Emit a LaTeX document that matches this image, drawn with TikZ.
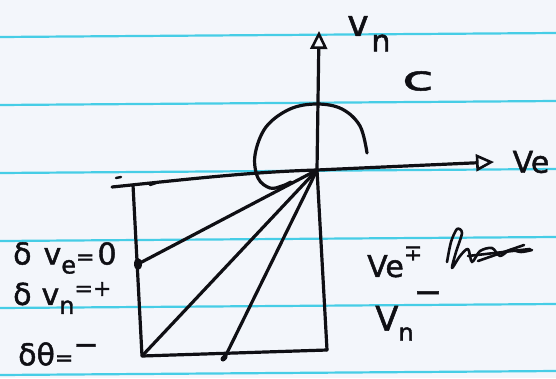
\documentclass[tikz,border=0pt]{standalone}
\usepackage{fontspec}
\setmainfont{DejaVu Sans}[FakeBold=1.5]
\usetikzlibrary{arrows.meta}
\definecolor{paper}{RGB}{243,246,251}
\definecolor{rulec}{RGB}{70,205,230}
\definecolor{ink}{RGB}{15,15,20}
\newcommand\lowr[1]{\raisebox{-0.3em}{\fontsize{24}{24}\selectfont #1}}
\newcommand\sm[1]{{\fontsize{22}{22}\selectfont #1}}
\tikzset{
  inkline/.style={draw=ink, line width=3.2pt, line cap=round, line join=round},
  ruleline/.style={draw=rulec, line width=2.2pt},
  lab/.style={inner sep=0pt, text=ink, font=\fontsize{30}{30}\selectfont},
  opentip/.style={-{Triangle[open, length=18pt, width=17pt, line width=2.6pt]}},
}
\begin{document}
\begin{tikzpicture}[x=1pt,y=-1pt]
\fill[paper] (0,0) rectangle (556,378);
\useasboundingbox (0,0) rectangle (556,378);
% ruled lines
\foreach \yy in {35,103,171,239,306,373}
  \draw[ruleline] (0,\yy+2) -- (556,\yy-2);
% key points
\coordinate (O) at (317,170);
\coordinate (N) at (319,31);
\coordinate (E) at (494,162);
\coordinate (W) at (112,187);
\coordinate (TL) at (133,185);
\coordinate (BL) at (142,356);
\coordinate (BR) at (327,350);
\coordinate (D) at (138,264);
\coordinate (M) at (225,357);
% axes
\draw[inkline, opentip] (BR) -- (O) -- (N);
\draw[inkline, opentip] (W) .. controls (190,179) and (250,172) .. (O) -- (E);
% box and fan
\draw[inkline] (TL) -- (BL) -- (BR);
\draw[inkline] (O) -- (D);
\draw[inkline] (O) -- (BL);
\draw[inkline] (O) -- (M);
\fill[ink] (D) ellipse (4 and 6);
\draw[inkline, line width=5pt] (M) -- ++(-2,2);
% small ticks
\draw[inkline, line width=2.4pt] (116,178) -- (121,177);
\draw[inkline, line width=2.4pt] (150,185) -- (156,183);
% semicircle
\draw[inkline] plot[smooth, tension=0.6] coordinates {(367,153) (360,126) (342,109) (317,104) (290,109) (266,127) (255,155) (258,178) (270,188) (282,186) (291,182)};
% labels
\node[lab, font=\fontsize{36}{36}\selectfont] (vlab) at (358,26) {v};
\node[lab, font=\fontsize{30}{30}\selectfont] (nlab) at (381,43) {n};
\node[lab, font=\fontsize{34}{34}\selectfont] (clab) at (418,81) {\scalebox{1.7}[1]{c}};
\node[lab] (velab) at (531,162) {Ve};
\node[lab, anchor=west] (l1) at (13,258) {δ\kern12pt v\lowr{e}\sm{=}\kern3pt 0};
\node[lab, anchor=west] (l2) at (13,298) {δ\kern10pt v\lowr{n}\raisebox{0.3em}{\sm{=+}}};
\node[lab, anchor=west] (l3) at (18,354) {δθ\sm{=}\raisebox{0.35em}{−}};
\node[lab, anchor=west] (r1) at (367,262) {Ve\raisebox{0.55em}{\sm{∓}}};
\node[lab, anchor=west, font=\fontsize{34}{34}\selectfont] (r2) at (375,316) {V\lowr{n}\raisebox{0.8em}{−}};
% crossed-out word
\draw[inkline, line width=2.6pt] plot[smooth, tension=0.5] coordinates {(447,262) (451,242) (457,229) (462,233) (456,252) (452,268) (460,256) (468,249) (472,262) (480,251) (492,248) (500,256) (510,250) (521,252) (532,250)};
\draw[inkline, line width=2.6pt] (468,256) -- (530,249);
\draw[inkline, line width=2.6pt] (478,261) -- (524,245);
\end{tikzpicture}
\end{document}
